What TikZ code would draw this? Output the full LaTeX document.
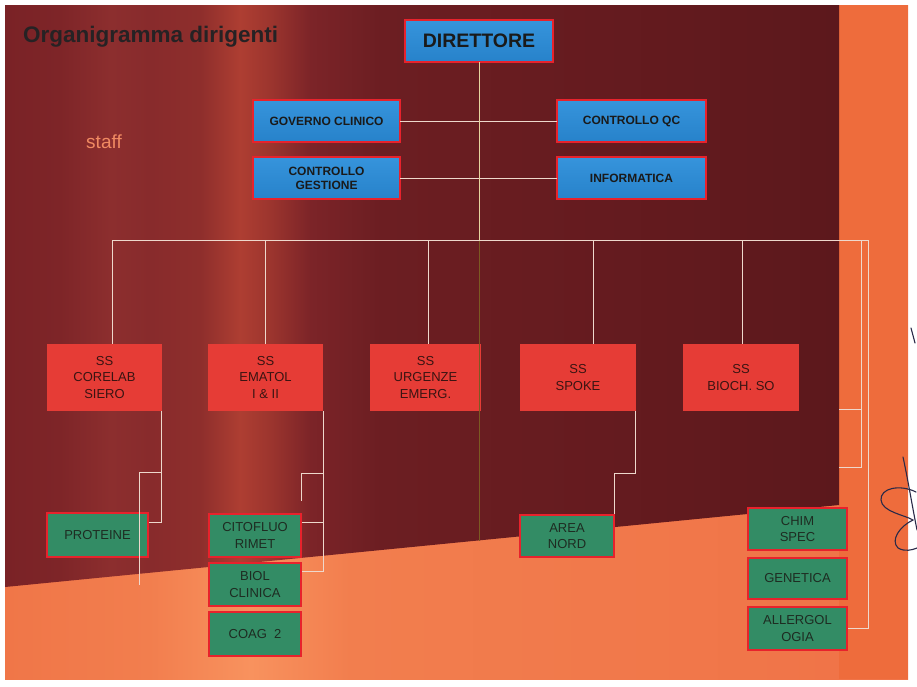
\documentclass[tikz,border=0pt]{standalone}
\usepackage{fontspec}
\setmainfont{Liberation Sans}
\usetikzlibrary{calc}
\definecolor{dA}{HTML}{7A2226}
\definecolor{dB}{HTML}{7E2528}
\definecolor{dC}{HTML}{8C2E2E}
\definecolor{dC2}{HTML}{882B2C}
\definecolor{dD}{HTML}{8E2E2C}
\definecolor{dE}{HTML}{AE3E32}
\definecolor{dF}{HTML}{9C352E}
\definecolor{dG}{HTML}{7C2428}
\definecolor{dH}{HTML}{6C1E22}
\definecolor{dI}{HTML}{651B1F}
\definecolor{dJ}{HTML}{5C181C}
\definecolor{oA}{HTML}{F07648}
\definecolor{oB}{HTML}{F27E4E}
\definecolor{oC}{HTML}{F8925E}
\definecolor{oD}{HTML}{F27E4E}
\definecolor{oE}{HTML}{F07448}
\definecolor{stripcol}{HTML}{EE6C3C}
\definecolor{boxred}{HTML}{E8222C}
\definecolor{blueT}{HTML}{3694DC}
\definecolor{blueB}{HTML}{2782CA}
\definecolor{redfill}{HTML}{E63C36}
\definecolor{greenfill}{HTML}{338C65}
\definecolor{txtdark}{HTML}{1A1A1A}
\definecolor{redtxt}{HTML}{3A1412}
\definecolor{greentxt}{HTML}{1E2C22}
\definecolor{linecol}{HTML}{EED8CC}
\definecolor{dirlinecol}{HTML}{E6D6A0}
\definecolor{olivecol}{HTML}{7C5A22}
\definecolor{titlecol}{HTML}{262224}
\definecolor{stafftxt}{HTML}{F08A62}
\definecolor{inkcol}{HTML}{2A2A48}
\pgfdeclarehorizontalshading{darkbg}{100bp}{color(0bp)=(dA); color(25bp)=(dA); color(28.3bp)=(dB); color(31.3bp)=(dC); color(33.7bp)=(dC2); color(36.7bp)=(dD); color(39.1bp)=(dE); color(40.9bp)=(dF); color(43.3bp)=(dG); color(47.5bp)=(dH); color(60.7bp)=(dI); color(75bp)=(dJ); color(100bp)=(dJ)}
\pgfdeclarehorizontalshading{orangebg}{100bp}{color(0bp)=(oA); color(25bp)=(oA); color(33bp)=(oB); color(38.6bp)=(oC); color(44.1bp)=(oD); color(71.2bp)=(oE); color(75bp)=(oE); color(100bp)=(oE)}
\tikzset{
  bluebox/.style={draw=boxred, line width=1.6pt, top color=blueT, bottom color=blueB,
    minimum height=42pt, inner sep=0pt, outer sep=0pt, text=txtdark, align=center,
    font=\bfseries\fontsize{12}{14}\selectfont},
  redbox/.style={fill=redfill, minimum width=115pt, minimum height=67pt, inner sep=0pt,
    outer sep=0pt, text=redtxt, align=center, font=\fontsize{13}{16.5}\selectfont},
  greenbox/.style={draw=boxred, line width=1.6pt, fill=greenfill, inner sep=0pt, outer sep=0pt,
    text=greentxt, align=center, font=\fontsize{13}{16.5}\selectfont},
  conn/.style={draw=linecol, line width=1pt},
  dirline/.style={draw=dirlinecol, line width=1pt},
  oliveline/.style={draw=olivecol, line width=1pt},
  ink/.style={draw=inkcol, line width=1.1pt, line cap=round},
}
\begin{document}
\begin{tikzpicture}[x=1pt,y=-1pt]
\useasboundingbox (0,0) rectangle (917,686);
\fill[white] (0,0) rectangle (917,686);
% slide background
\shade[shading=orangebg] (5,5) rectangle (908,679);
\fill[stripcol] (839,5) rectangle (908,679);
\shade[shading=darkbg] (5,5) -- (839,5) -- (839,505) -- (5,587) -- cycle;

% title and label
\node[anchor=base west, font=\bfseries\fontsize{22.5}{26}\selectfont, text=titlecol, inner sep=0pt] (title) at (23,42) {Organigramma dirigenti};
\node[anchor=base, font=\fontsize{19}{22}\selectfont, text=stafftxt, inner sep=0pt] (staff) at (104,148) {staff};

% coordinates
\coordinate (busL) at (112,240);
\coordinate (busR) at (868,240);
\coordinate (r1) at (861,240);
\coordinate (r2) at (861,467);
\coordinate (r3) at (839,409);
\coordinate (r4) at (839,467);
\coordinate (oliveEnd) at (479,541);
\coordinate (cA) at (161,472);
\coordinate (pEnd) at (139,585);
\coordinate (eA) at (323,473);
\coordinate (sA) at (614,473);

% nodes
\node[bluebox, minimum width=148pt, font=\bfseries\fontsize{19.5}{22}\selectfont] (dir) at (479,41) {DIRETTORE};
\node[bluebox, minimum width=147pt] (gov) at (326.5,121) {GOVERNO CLINICO};
\node[bluebox, minimum width=149pt] (cqc) at (631.5,121) {CONTROLLO QC};
\node[bluebox, minimum width=147pt] (cg) at (326.5,178) {CONTROLLO\\GESTIONE};
\node[bluebox, minimum width=149pt] (info) at (631.5,178) {INFORMATICA};

\node[redbox] (corelab) at (104.5,377.5) {SS\\CORELAB\\SIERO};
\node[redbox] (ematol) at (265.5,377.5) {SS\\EMATOL\\I \& II};
\node[redbox, minimum width=111pt] (urg) at (425.5,377.5) {SS\\URGENZE\\EMERG.};
\node[redbox, minimum width=116pt] (spoke) at (578,377.5) {SS\\SPOKE};
\node[redbox, minimum width=116pt] (bioch) at (741,377.5) {SS\\BIOCH. SO};

% connectors (drawn before the boxes' children)
\begin{scope}[on background layer/.style={}]
\end{scope}
\draw[oliveline] (dir.south |- busL) -- (oliveEnd);
\draw[conn] (gov.east) -- (cqc.west);
\draw[conn] (cg.east) -- (info.west);
\draw[dirline] (dir.south) -- (dir.south |- busL);
\draw[conn] (busL) -- (busR);
\draw[conn] (busL) -- (busL |- corelab.north);
\draw[conn] (ematol.north |- busL) -- (ematol.north);
\draw[conn] ([xshift=3pt]urg.north |- busL) -- ([xshift=3pt]urg.north);
\draw[conn] ([xshift=15pt]spoke.north |- busL) -- ([xshift=15pt]spoke.north);
\draw[conn] ([xshift=1pt]bioch.north |- busL) -- ([xshift=1pt]bioch.north);
\draw[conn] (r1) -- (r2) -- (r4);
\draw[conn] (r3) -- (r3 -| r1);

\node[greenbox, minimum width=101pt, minimum height=44pt] (prot) at (97.5,535) {PROTEINE};
\node[greenbox, minimum width=92pt, minimum height=43pt] (citof) at (255,535.5) {CITOFLUO\\RIMET};
\node[greenbox, minimum width=92pt, minimum height=43pt] (biol) at (255,584.5) {BIOL\\CLINICA};
\node[greenbox, minimum width=92pt, minimum height=44pt] (coag) at (255,634) {COAG\ \ 2};
\node[greenbox, minimum width=94pt, minimum height=42pt] (area) at (567,536) {AREA\\NORD};
\node[greenbox, minimum width=99pt, minimum height=42pt] (chim) at (797.5,529) {CHIM\\SPEC};
\node[greenbox, minimum width=99pt, minimum height=41pt] (gen) at (797.5,578.5) {GENETICA};
\node[greenbox, minimum width=99pt, minimum height=43pt] (allerg) at (797.5,628.5) {ALLERGOL\\OGIA};

% child connectors
\draw[conn] ([xshift=-1pt]corelab.south east) |- ([yshift=13pt,xshift=0.8pt]prot.east);
\draw[conn] (cA) -| (pEnd);
\draw[conn] (ematol.south east) |- ([yshift=13.5pt,xshift=0.8pt]biol.east);
\draw[conn] ([yshift=13.5pt,xshift=0.8pt]citof.east) -- ([yshift=13.5pt]citof.east -| ematol.south east);
\draw[conn] (eA) -| ([yshift=13.5pt,xshift=0.8pt]citof.north east);
\draw[conn] ([xshift=-1pt]spoke.south east) |- (sA) -- ([yshift=0.8pt]area.north east);
\draw[conn] (busR) |- ([xshift=0.8pt]allerg.east);

% handwritten mark at the right margin
\draw[ink] (911,328) -- (915,343);
\draw[ink] (903,457) .. controls (908,480) and (912,505) .. (917,530);
\draw[ink] (916,492) .. controls (900,484) and (880,488) .. (881,500) .. controls (882,512) and (905,515) .. (913,520) .. controls (900,526) and (890,540) .. (898,548) .. controls (905,552) and (912,550) .. (917,548);
\end{tikzpicture}
\end{document}
